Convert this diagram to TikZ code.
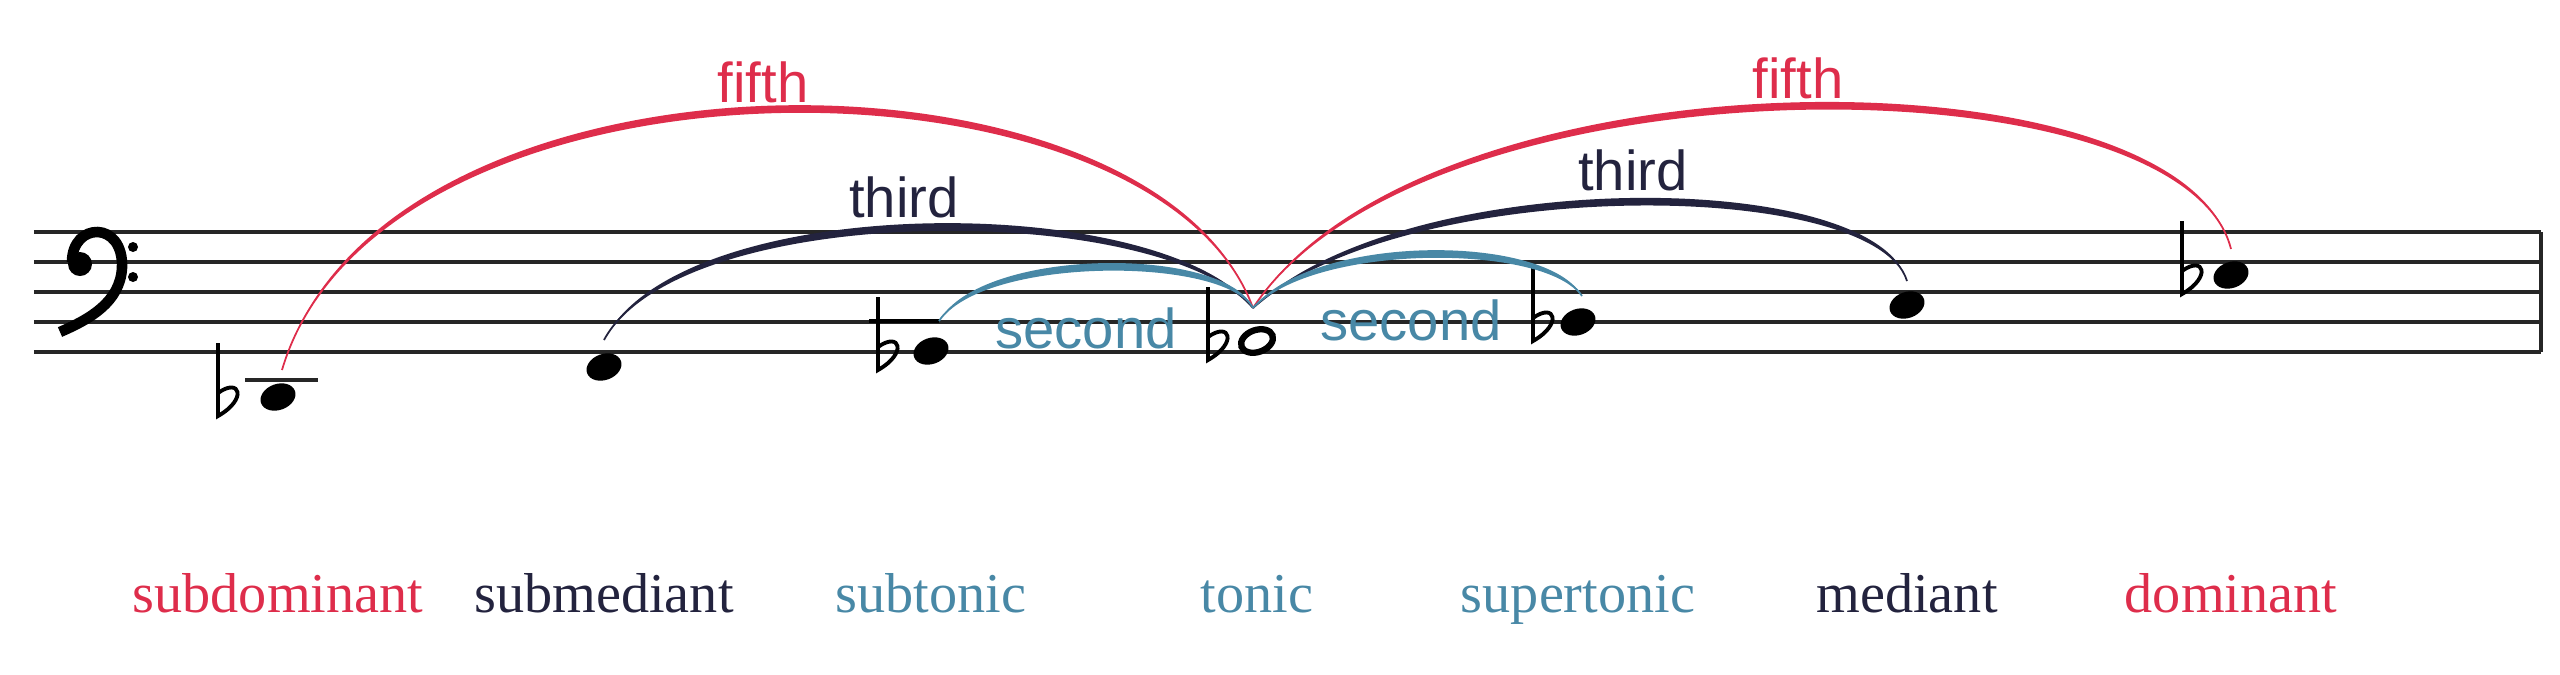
\documentclass[tikz,border=0pt]{standalone}
\usepackage{fontspec}
\setmainfont{Liberation Serif}
\newfontfamily\intfont{Liberation Sans}
\usetikzlibrary{calc,shapes,positioning}
\definecolor{fifthred}{RGB}{222,45,75}
\definecolor{thirdnavy}{RGB}{35,35,62}
\definecolor{secondblue}{RGB}{72,136,166}
\tikzset{%
    staffline/.style={%
        line width=1.2pt, black!85
    },
    notehead/.style={%
        ellipse, fill=black, minimum width=0.36cm, minimum height=0.26cm, inner sep=0pt, rotate=20
    },
    openhead/.style={%
        ellipse, draw=black, line width=1.8pt, fill=white, minimum width=0.33cm, minimum height=0.22cm, inner sep=0pt, rotate=20
    },
    flatsign/.style={%
        line width=1.1pt, black
    },
    intlabel/.style={%
        font=\intfont\fontsize{16}{18}\selectfont
    },
    degree/.style={%
        font=\fontsize{16}{18}\selectfont
    },
}
% flat sign: x of stem, y of the note
\newcommand{\flatat}[2]{%
    \draw[flatsign] (#1,#2+0.54) -- (#1,#2-0.19)
        .. controls (#1+0.3,#2-0.02) and (#1+0.22,#2+0.2) .. (#1,#2+0.04);
}
% tapered arc: start, control 1, control 2, end, colour
\newcommand{\intarc}[5]{%
    \fill[#5] #1 .. controls #2 and #3 .. #4
        .. controls ($#3+(0,0.09)$) and ($#2+(0,0.09)$) .. #1 -- cycle;
    \draw[#5, line width=0.5pt] #1 .. controls #2 and #3 .. #4;
}

\begin{document}
\begin{tikzpicture}
    \useasboundingbox (0,0) rectangle (25.6,6.74);

    % staff
    \foreach \i in {0,1,...,4}{
        \pgfmathparse{3.22+0.3*\i}
        \edef\ypos{\pgfmathresult}
        \draw[staffline] (0.34,\ypos) -- (25.41,\ypos);
    }
    \draw[staffline] (25.41,3.22) -- (25.41,4.42);

    % bass clef
    \fill (0.8,4.1) circle (0.12);
    \draw[line width=3pt] (0.72,4.12) .. controls (0.72,4.52) and (1.24,4.54) .. (1.22,4.06)
        .. controls (1.2,3.72) and (0.9,3.55) .. (0.6,3.42);
    \fill (1.33,4.27) circle (0.05);
    \fill (1.33,3.97) circle (0.05);

    % notes
    \draw[staffline] (2.45,2.94) -- (3.18,2.94);
    \node[notehead] (sd) at (2.78,2.77) {};
    \node[notehead] (smd) at (6.04,3.07) {};
    \node[notehead] (st) at (9.31,3.23) {};
    \node[openhead] (t) at (12.57,3.33) {};
    \node[notehead] (sut) at (15.78,3.52) {};
    \node[notehead] (m) at (19.07,3.69) {};
    \node[notehead] (d) at (22.31,3.99) {};
    \draw[line width=1.2pt] (8.69,3.53) -- (9.39,3.53);
    \flatat{2.18}{2.77}
    \flatat{8.78}{3.23}
    \flatat{12.08}{3.33}
    \flatat{15.33}{3.52}
    \flatat{21.82}{3.99}

    \coordinate (meet) at (12.53,3.66);

    % interval arcs
    \intarc{(2.82,3.04)}{(3.8,6.37)}{(11.54,6.37)}{(meet)}{fifthred}
    \intarc{(meet)}{(14.2,6.21)}{(21.82,6.21)}{(22.31,4.25)}{fifthred}
    \intarc{(6.04,3.34)}{(6.8,4.75)}{(11.6,4.75)}{(meet)}{thirdnavy}
    \intarc{(meet)}{(14.0,4.99)}{(18.75,4.99)}{(19.07,3.93)}{thirdnavy}
    \intarc{(9.39,3.53)}{(9.82,4.19)}{(12.26,4.19)}{(meet)}{secondblue}
    \intarc{(meet)}{(13.13,4.32)}{(15.47,4.32)}{(15.82,3.78)}{secondblue}

    \node[intlabel, fifthred] (fifth_l) at (7.63,5.92) {fifth};
    \node[intlabel, fifthred] (fifth_r) at (17.98,5.96) {fifth};
    \node[intlabel, thirdnavy] (third_l) at (9.04,4.77) {third};
    \node[intlabel, thirdnavy] (third_r) at (16.33,5.04) {third};
    \node[intlabel, secondblue] (second_l) at (10.86,3.46) {second};
    \node[intlabel, secondblue] (second_r) at (14.11,3.54) {second};

    % scale degrees
    \foreach \n/\txt/\col in {sd/subdominant/fifthred, smd/submediant/thirdnavy,
        st/subtonic/secondblue, t/tonic/secondblue, sut/supertonic/secondblue,
        m/mediant/thirdnavy, d/dominant/fifthred}{
        \node[degree, text=\col, anchor=base] (\n_lab) at (\n |- 0,0.62) {\txt};
    }
\end{tikzpicture}
\end{document}
